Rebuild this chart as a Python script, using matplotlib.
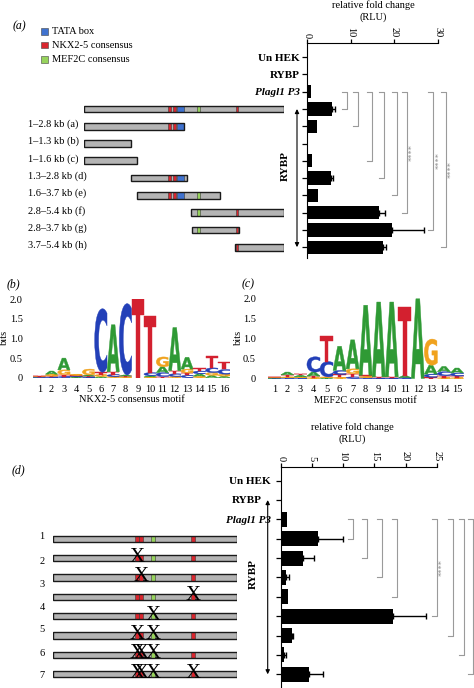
import matplotlib
matplotlib.use("Agg")
import matplotlib.pyplot as plt
import matplotlib.transforms as mtransforms
from matplotlib.patches import Rectangle, PathPatch
from matplotlib.textpath import TextPath
from matplotlib.font_manager import FontProperties

plt.rcParams["font.family"] = "Liberation Serif"

W, H = 474, 688

# ---------------- data ----------------
# (a) luciferase, relative fold change (RLU)
a_rows = ["Un HEK", "RYBP", "Plagl1 P3"]
a_constructs = ["", "1–2.8 kb (a)", "1–1.3 kb (b)", "1–1.6 kb (c)", "1.3–2.8 kb (d)",
                "1.6–3.7 kb (e)", "2.8–5.4 kb (f)", "2.8–3.7 kb (g)", "3.7–5.4 kb (h)"]
a_rlu = [0, 0, 1.0, 5.7, 2.2, 0.3, 1.2, 5.5, 2.5, 16.5, 19.4, 17.4]
a_rlu_err = [0, 0, 0, 0.7, 0, 0, 0, 0.5, 0, 1.3, 7.4, 0.6]
# construct extent, % of full-length promoter
a_seg_start = [0, 0, 0, 0, 23.4, 26.2, 53.6, 53.8, 75.5]
a_seg_end = [100, 50.1, 23.2, 26.2, 51.4, 67.9, 100, 77.5, 100]
a_site_lo = [42.0, 44.5, 46.3, 56.5, 75.8]
a_site_hi = [43.6, 46.1, 50.1, 58.0, 77.1]
a_site_kind = ["NKX", "NKX", "TATA", "MEF", "NKX"]
a_cmp_rows = [3, 4, 6, 7, 8, 9, 10, 11]
a_sig_rows = [9, 10, 11]

# (b) NKX2-5 motif, bits per base
nkx_A = [.01, .08, .30, .02, .03, .03, 1.20, .03, 0, .03, .15, 1.10, .30, .06, .06, .04]
nkx_C = [.01, .02, .03, .02, .02, 1.62, .05, 1.82, 0, .08, .10, .07, .06, .07, .12, .12]
nkx_G = [.01, .05, .12, .03, .15, .05, .03, .02, 0, .02, .25, .03, .10, .04, .07, .05]
nkx_T = [.01, .02, .05, .02, .02, .06, .07, .02, 2.0, 1.45, .03, .08, .06, .08, .30, .20]

# (c) MEF2C motif, bits per base
mef_A = [.01, .07, .04, .10, .02, .60, .72, 1.74, 1.86, 1.86, .05, 1.98, .22, .13, .12]
mef_C = [.01, .02, .02, .38, .38, .10, .04, .02, .01, .01, .02, 0, .08, .10, .08]
mef_G = [.01, .02, .02, .02, .02, .03, .12, .03, 0, 0, 0, 0, .65, .02, .02]
mef_T = [.01, .05, .04, .04, .63, .07, .08, .03, .03, .03, 1.70, 0, .03, .05, .04]

# (d) site mutants
d_rlu = [0, 0, 1.06, 6.0, 3.5, 0.85, 1.2, 18.0, 1.75, 0.6, 4.5]
d_rlu_err = [0, 0, 0, 4.0, 1.9, 0.55, 0, 5.35, 0.27, 0.2, 2.2]
d_site_lo = [44.6, 47.0, 53.1, 74.8]
d_site_hi = [46.7, 49.1, 55.4, 76.9]
d_site_kind = ["NKX", "NKX", "MEF", "NKX"]
d_mutated = [[], [0], [1], [3], [2], [0, 2], [0, 1, 2], [0, 1, 2, 3]]
d_ids = ["1", "2", "3", "4", "5", "6", "7"]
d_cmp_rows = [3, 4, 5, 6, 7, 8, 9, 10]
d_sig_rows = [7]

# ---------------- styling / layout ----------------
site_color = {"TATA": "#3f72cf", "NKX": "#d9262e", "MEF": "#97d35c"}
base_color = {"A": "#2f9a35", "C": "#2340b8", "G": "#f0a21e", "T": "#d3202f"}
grey_line = "#9a9a9a"

a_brk_x = [9.1, 11.75, 14.95, 17.6, 20.55, 22.85, 28.9, 31.75]
d_brk_x = [11.55, 13.8, 16.2, 18.6, 25.0, 27.55, 29.4, 30.85]
d_id_rows = [2.9, 4.15, 5.35, 6.55, 7.7, 8.95, 10.05]

fig = plt.figure(figsize=(W / 100, H / 100), dpi=100)


def px_axes(x0, y0, x1, y1):
    ax = fig.add_axes([x0 / W, 1 - y1 / H, (x1 - x0) / W, (y1 - y0) / H])
    ax.patch.set_visible(False)
    return ax


canvas = px_axes(0, 0, W, H)
canvas.set_xlim(0, W)
canvas.set_ylim(H, 0)
canvas.axis("off")


def rlu_panel(box, row0, drow, xmax, xticks, vals, errs, cmp_rows, brk_x, sig_rows,
              arrow_rows, arrow_px, label_pad, row_labels):
    left, right, top, bottom = box
    ax = px_axes(left, top, right, bottom)
    n = len(vals)
    rows = list(range(n))
    ax.set_xlim(0, xmax)
    ax.set_ylim((bottom - row0) / drow, (top - row0) / drow)
    ax.barh(rows, vals, height=0.77, color="black")
    er = [r for r in rows if errs[r] > 0]
    ax.errorbar([vals[r] for r in er], er, xerr=[[0] * len(er), [errs[r] for r in er]],
                fmt="none", ecolor="black", elinewidth=1.0, capsize=2.4, capthick=1.0)
    for s in ("right", "bottom"):
        ax.spines[s].set_visible(False)
    ax.xaxis.tick_top()
    ax.set_xticks(xticks)
    ax.tick_params(axis="x", direction="out", length=3, width=0.9, labelsize=7.5,
                   labelrotation=-90, pad=1)
    ax.set_yticks(rows)
    ax.set_yticklabels(row_labels + [""] * (n - len(row_labels)))
    ax.tick_params(axis="y", direction="out", length=3.5, width=0.9, labelsize=8,
                   pad=label_pad)
    for i, t in enumerate(ax.get_yticklabels()):
        t.set_fontweight("bold")
        if i == 2:
            t.set_fontstyle("italic")
    px_unit = (right - left) / xmax
    tick = 5 / px_unit
    for tr, bx in zip(cmp_rows, brk_x):
        ax.plot([bx - tick, bx, bx, bx - tick], [2, 2, tr, tr], color=grey_line,
                lw=0.8, clip_on=False)
        if tr in sig_rows:
            off = mtransforms.offset_copy(ax.transData, fig=fig, x=6, y=0, units="dots")
            ax.text(bx, (2 + tr) / 2, "****", rotation=90, transform=off, ha="center",
                    va="center", fontsize=6, color="#8a8a8a")
    trans = mtransforms.blended_transform_factory(fig.transFigure, ax.transData)
    ax.annotate("", xy=(arrow_px / W, arrow_rows[1]), xytext=(arrow_px / W, arrow_rows[0]),
                xycoords=trans, textcoords=trans, annotation_clip=False,
                arrowprops=dict(arrowstyle="<|-|>", color="black", lw=0.8,
                                mutation_scale=6, shrinkA=0, shrinkB=0))
    return ax


def construct_panel(box, ylim, rows, starts, ends, lo, hi, kind, bar_h):
    left, right, top, bottom = box
    ax = px_axes(left, top, right, bottom)
    ax.set_xlim(0, 100)
    ax.set_ylim(*ylim)
    ax.axis("off")
    for r, s, e in zip(rows, starts, ends):
        ax.add_patch(Rectangle((s, r - bar_h / 2), e - s, bar_h, fc="#b4b4b4", ec="none"))
        for l0, h0, k in zip(lo, hi, kind):
            if l0 >= s - 0.5 and h0 <= e + 0.5:
                ax.add_patch(Rectangle((l0, r - bar_h / 2), h0 - l0, bar_h,
                                       fc=site_color[k], ec="#3a3a3a", lw=0.4))
        ax.add_patch(Rectangle((s, r - bar_h / 2), e - s, bar_h, fc="none",
                               ec="#1a1a1a", lw=1.0))
    return ax


font_logo = FontProperties(family="DejaVu Sans", weight="bold")


def draw_letter(ax, ch, x, y0, h, w=1.0):
    tp = TextPath((0, 0), ch, size=1, prop=font_logo)
    bb = tp.get_extents()
    t = (mtransforms.Affine2D().translate(-bb.x0, -bb.y0)
         .scale(w / bb.width, h / bb.height).translate(x - w / 2, y0))
    ax.add_patch(PathPatch(t.transform_path(tp), fc=base_color[ch], ec=base_color[ch],
                           lw=0.3))


def logo_panel(box, heights, xlabel, ypad):
    left, right, top, bottom = box
    ax = px_axes(left, top, right, bottom)
    n = len(heights["A"])
    ax.set_xlim(0.5, n + 0.5)
    ax.set_ylim(0, 2)
    for i in range(n):
        y = 0
        for h, ch in sorted((heights[c][i], c) for c in "ACGT"):
            if h > 0:
                draw_letter(ax, ch, i + 1, y, h)
            y += h
    for s in ax.spines.values():
        s.set_visible(False)
    ax.set_xticks(range(1, n + 1))
    ax.set_yticks([0, 0.5, 1, 1.5, 2])
    ax.set_yticklabels(["0", "0.5", "1.0", "1.5", "2.0"])
    ax.tick_params(axis="x", length=0, labelsize=7.5, pad=5)
    ax.tick_params(axis="y", length=0, labelsize=7.5, pad=ypad)
    ax.set_xlabel(xlabel, fontsize=7.5, labelpad=1)
    return ax


# ---------------- panel (a) ----------------
canvas.text(12.5, 26, "(a)", fontsize=8.5, style="italic", va="center")
for y, k, lab in [(31.7, "TATA", "TATA box"), (45, "NKX", "NKX2-5 consensus"),
                  (59.3, "MEF", "MEF2C consensus")]:
    canvas.add_patch(Rectangle((41, y - 3.4), 7, 6.8, fc=site_color[k], ec="#444444", lw=0.4))
    canvas.text(51.7, y, lab, fontsize=7.5, va="center")
canvas.text(373, 5.5, "relative fold change", fontsize=7.5, ha="center", va="center")
canvas.text(373, 17, "(RLU)", fontsize=7.5, ha="center", va="center")

a_box = (307, 438, 43.3, 258)
ax_a = rlu_panel(a_box, 57.2, 17.27, 30, [0, 10, 20, 30], a_rlu, a_rlu_err, a_cmp_rows,
                 a_brk_x, a_sig_rows, (3, 11), 297, 1.5, a_rows)
canvas.text(285.5, 166, "RYBP", rotation=90, fontsize=8, fontweight="bold",
            ha="center", va="center")

a_rows_c = list(range(3, 3 + len(a_constructs)))
construct_panel((84.3, 284.0, 43.3, 258), ax_a.get_ylim(), a_rows_c, a_seg_start,
                a_seg_end, a_site_lo, a_site_hi, a_site_kind, 0.39)
lab_tr = mtransforms.blended_transform_factory(fig.transFigure, ax_a.transData)
for r, lab in zip(a_rows_c, a_constructs):
    if lab:
        ax_a.text(27.5 / W, r - 0.12, lab, transform=lab_tr, fontsize=7.5, va="center",
                  ha="left", clip_on=False)

# ---------------- panels (b), (c) ----------------
canvas.text(7, 284, "(b)", fontsize=8.5, style="italic", va="center")
canvas.text(242, 284, "(c)", fontsize=8.5, style="italic", va="center")
logo_panel((33.1, 230.2, 299.3, 377.7), {"A": nkx_A, "C": nkx_C, "G": nkx_G, "T": nkx_T},
           "NKX2-5 consensus motif", 7.5)
logo_panel((267.8, 463.5, 298.0, 378.5), {"A": mef_A, "C": mef_C, "G": mef_G, "T": mef_T},
           "MEF2C consensus motif", 8.5)
canvas.text(4.5, 337, "bits", rotation=90, fontsize=7.5, ha="center", va="center")
canvas.text(238, 337, "bits", rotation=90, fontsize=7.5, ha="center", va="center")

# ---------------- panel (d) ----------------
canvas.text(12, 470, "(d)", fontsize=8.5, style="italic", va="center")
canvas.text(352, 427.5, "relative fold change", fontsize=7.5, ha="center", va="center")
canvas.text(352, 439, "(RLU)", fontsize=7.5, ha="center", va="center")

d_box = (280.7, 436.7, 466.7, 688)
d_labels = [a_rows[0], "", a_rows[2]]
ax_d = rlu_panel(d_box, 480.7, 19.36, 25, [0, 5, 10, 15, 20, 25], d_rlu, d_rlu_err,
                 d_cmp_rows, d_brk_x, d_sig_rows, (1, 10), 267.7, 3.5, d_labels)
# RYBP row label sits left of the arrow head in this panel
d_lab_tr = mtransforms.blended_transform_factory(fig.transFigure, ax_d.transData)
ax_d.text(262 / W, 1, a_rows[1], transform=d_lab_tr, fontsize=8, fontweight="bold",
          ha="right", va="center", clip_on=False)
canvas.text(253.3, 574, "RYBP", rotation=90, fontsize=8, fontweight="bold",
            ha="center", va="center")

d_rows_c = list(range(3, 3 + len(d_mutated)))
ax_dc = construct_panel((52.7, 237.3, 466.7, 688), ax_d.get_ylim(), d_rows_c,
                        [0] * len(d_rows_c), [100] * len(d_rows_c), d_site_lo, d_site_hi,
                        d_site_kind, 0.33)
for r, muts in zip(d_rows_c, d_mutated):
    for m in muts:
        ax_dc.text((d_site_lo[m] + d_site_hi[m]) / 2, r - 0.05, "X", fontsize=15,
                   ha="center", va="center", color="black", clip_on=False)
for r, lab in zip(d_id_rows, d_ids):
    ax_d.text(42 / W, r, lab, transform=d_lab_tr, fontsize=7.5, ha="center", va="center",
              clip_on=False)

fig.savefig("out.png", dpi=100)
